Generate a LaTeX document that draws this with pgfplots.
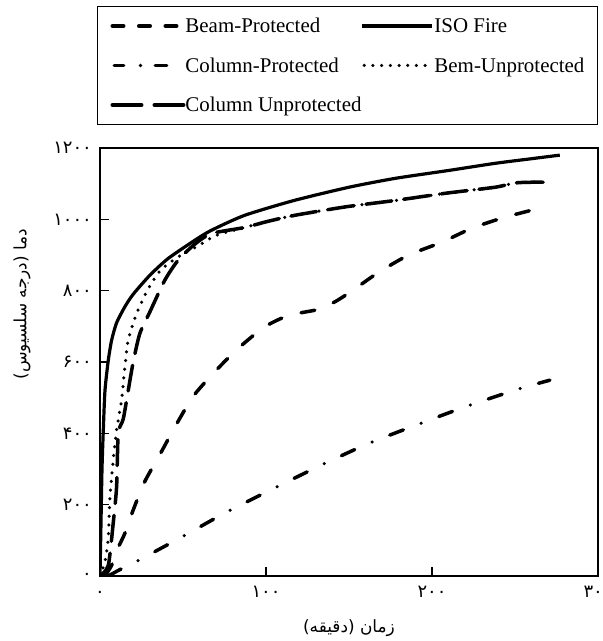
\documentclass[border=0pt]{standalone}
\usepackage{fontspec}
\setmainfont{Liberation Serif}
\newfontfamily\arabicfont[Script=Arabic]{DejaVu Sans}
\usepackage{pgfplots}
\pgfplotsset{compat=1.18}
\TeXXeTstate=1

\begin{document}
\begin{tikzpicture}
\begin{axis}[
  scale only axis, width=498bp, height=428bp,
  xmin=0, xmax=300, ymin=0, ymax=1200,
  axis line style={line width=1.6bp},
  tick align=inside, xtick pos=bottom, ytick pos=left,
  major tick length=9bp,
  every tick/.style={black, line width=1.4bp},
  xtick={0,100,200,300},
  xticklabels={{۰},{۱۰۰},{۲۰۰},{۳۰۰}},
  ytick={0,200,400,600,800,1000,1200},
  yticklabels={{۰},{۲۰۰},{۴۰۰},{۶۰۰},{۸۰۰},{۱۰۰۰},{۱۲۰۰}},
  ticklabel style={font=\arabicfont\fontsize{18}{18}\selectfont, inner sep=0bp},
  xticklabel style={text height=12bp, text depth=0bp, yshift=-9bp},
  yticklabel style={xshift=-8bp},
  xlabel={\arabicfont\beginR زمان (دقیقه)\endR},
  ylabel={\arabicfont\beginR دما (درجه سلسیوس)\endR},
  xlabel style={at={(axis description cs:0.5,-0.1215)}, anchor=center, font=\fontsize{17}{17}\selectfont},
  ylabel style={at={(axis description cs:-0.1566,0.635)}, anchor=center, font=\fontsize{17}{17}\selectfont},
  legend columns=2,
  legend style={at={(axis description cs:0,1)}, anchor=south west, xshift=-3bp, yshift=23bp,
    draw=black, line width=1bp, inner xsep=13bp, inner ysep=7.5bp,
    font=\fontsize{21}{24}\selectfont, cells={anchor=west},
    nodes={inner sep=0bp, text height=19bp, text depth=5bp},
    row sep=15.5bp, column sep=0bp, /tikz/column 2/.style={column sep=20bp}},
]
% legend images
\addlegendimage{black, solid, no markers, legend image code/.code={\path[draw=none,fill=none] (0bp,-1bp) rectangle (75bp,1bp); \draw[draw=black,solid,line width=3.5bp,line cap=round,dash pattern=on 11.5bp off 15bp] (1.75bp,0bp)--(66.25bp,0bp);}}
\addlegendentry{Beam-Protected}
\addlegendimage{black, solid, no markers, legend image code/.code={\path[draw=none,fill=none] (0bp,-1bp) rectangle (71bp,1bp); \draw[draw=black,solid,line width=4bp] (0bp,0bp)--(70bp,0bp);}}
\addlegendentry{ISO Fire}
\addlegendimage{black, solid, no markers, legend image code/.code={\path[draw=none,fill=none] (0bp,-1bp) rectangle (75bp,1bp); \draw[draw=black,solid,line width=3.5bp,line cap=round] (3.75bp,0bp)--(13.25bp,0bp); \fill[black,draw=none] (30bp,0bp) circle (1.9bp); \draw[draw=black,solid,line width=3.5bp,line cap=round] (44.75bp,0bp)--(56.25bp,0bp);}}
\addlegendentry{Column-Protected}
\addlegendimage{black, solid, no markers, legend image code/.code={\path[draw=none,fill=none] (0bp,-1bp) rectangle (71bp,1bp); \draw[draw=black,line width=3.5bp,line cap=round,dash pattern=on 0bp off 8.7bp] (1.75bp,0bp)--(66bp,0bp);}}
\addlegendentry{Bem-Unprotected}
\addlegendimage{black, solid, no markers, legend image code/.code={\path[draw=none,fill=none] (0bp,-1bp) rectangle (75bp,1bp); \draw[draw=black,line width=3.5bp,line cap=round,dash pattern=on 29.5bp off 12.5bp] (1.75bp,0bp)--(73.25bp,0bp);}}
\addlegendentry{\makebox[155bp][l]{Column Unprotected}}

% ISO Fire
\addplot[forget plot, black, line width=3.2bp, smooth, tension=0.4] coordinates {
(0,0)(0.6,150)(1.2,300)(2,410)(3,520)(5,605)(7,661)(10,710)(15,755)(20,790)(30,843)(41,890)(57,941)(67,969)(87,1011)(117,1053)(150,1090)(178,1115)(210,1137)(238,1157)(260,1170)(277,1180)};
% Bem-Unprotected
\addplot[forget plot, black, line width=3.5bp, line cap=round, dash pattern=on 0bp off 8.7bp, smooth, tension=0.4] coordinates {
(0,0)(3,40)(5,109)(6,221)(8,325)(10,409)(13,493)(15,586)(17,661)(22,735)(29,805)(37,860)(49,900)(60,928)(70,955)(87,977)(100,993)(117,1011)(148,1035)(178,1053)(208,1073)(238,1090)(250,1102)(260,1104)(270,1104)};
% Column Unprotected
\addplot[forget plot, black, line width=3.5bp, line cap=round, dash pattern=on 26bp off 12bp, smooth, tension=0.4] coordinates {
(0,0)(5,30)(8,150)(10,250)(11,400)(14,440)(17,520)(20,600)(24,680)(30,740)(39,829)(47,885)(57,930)(67,960)(87,977)(100,993)(117,1011)(148,1035)(178,1053)(208,1073)(238,1090)(250,1102)(260,1104)(270,1104)};
% Beam-Protected
\addplot[forget plot, black, line width=3.5bp, line cap=round, dash pattern=on 14bp off 20bp, smooth, tension=0.4] coordinates {
(3,0)(7,30)(10,70)(15,120)(20,185)(27,265)(36,340)(46,425)(56,503)(68,567)(82,633)(98,695)(110,724)(120,737)(132,748)(142,770)(152,800)(168,852)(186,900)(206,936)(224,975)(244,1006)(268,1035)};
% Column-Protected
\addplot[forget plot, black, line width=3.5bp, line cap=round, dash pattern=on 14.5bp off 19bp on 0bp off 19bp, smooth, tension=0.4] coordinates {
(5,0)(12,18)(20,36)(48,106)(75,176)(104,244)(132,308)(161,370)(192,426)(221,476)(252,524)(271,549)};
\end{axis}
\pgfresetboundingbox
\path[use as bounding box] (-100bp,-65bp) rectangle (503bp,576bp);
\end{tikzpicture}
\end{document}
